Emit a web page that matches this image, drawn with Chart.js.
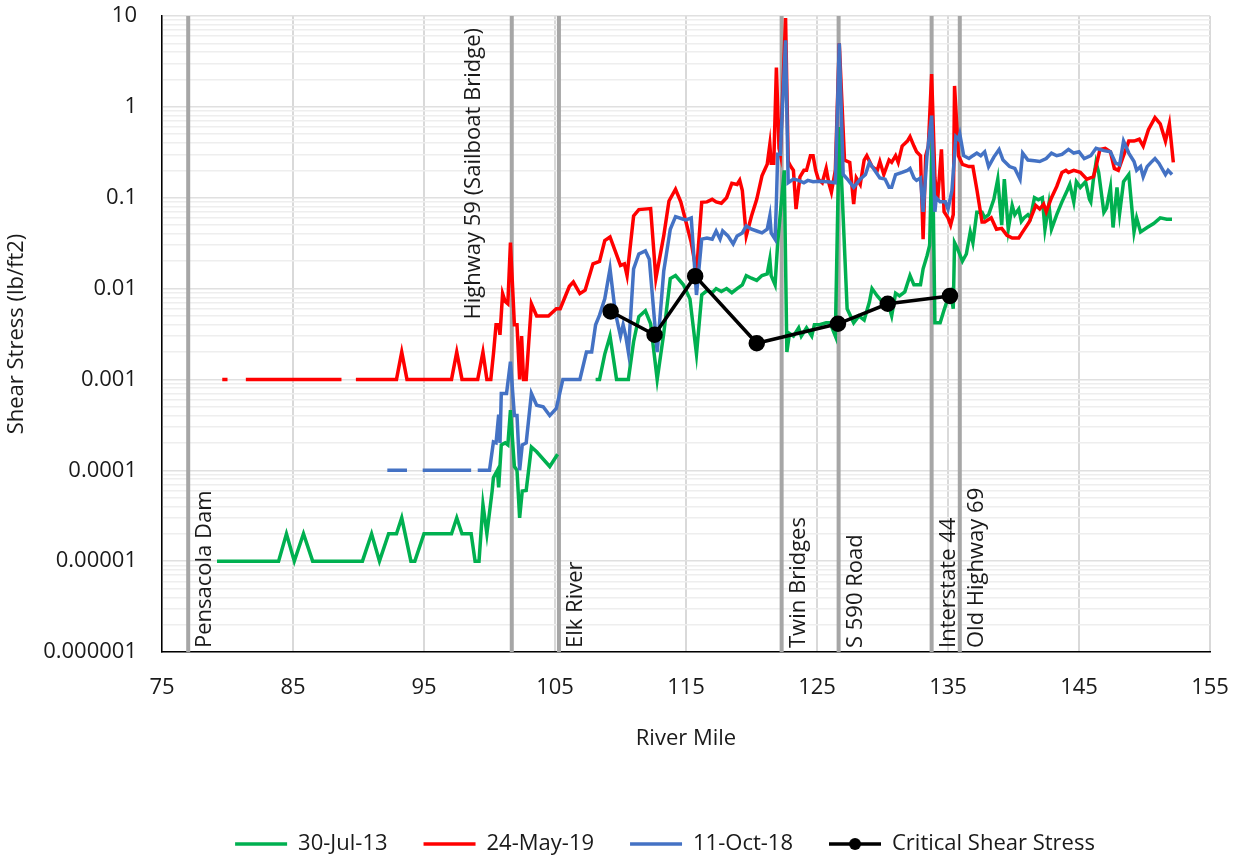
<!DOCTYPE html>
<html>
<head>
<meta charset="utf-8">
<title>Shear Stress by River Mile</title>
<script src="https://cdn.jsdelivr.net/npm/chart.js@4.4.0/dist/chart.umd.min.js"></script>
<style>
  html, body { margin: 0; padding: 0; background: #fff; }
  #wrap { width: 1243px; height: 865px; }
</style>
</head>
<body>
<div id="wrap"><canvas id="shearChart" width="1243" height="865"></canvas></div>
<script>
// [river mile, shear stress lb/ft2] ; null = no value (line breaks there)
const jul2013 = [
  [79.2, 1e-5], [83.9, 1e-5], [84.5, 2e-5], [85.1, 1e-5], [85.8, 2e-5], [86.5, 1e-5],
  [90.3, 1e-5], [91.0, 2e-5], [91.6, 1e-5], [92.3, 2e-5], [92.9, 2e-5], [93.3, 3e-5],
  [94.0, 1e-5], [94.3, 1e-5], [95.0, 2e-5], [97.1, 2e-5], [97.5, 3e-5], [97.9, 2e-5],
  [98.6, 2e-5], [98.9, 1e-5], [99.2, 1e-5], [99.5, 4.2e-5], [99.8, 2e-5], [100.2, 5.9e-5],
  [100.3, 8.3e-5], [100.6, 1e-4], [100.7, 6.5e-5], [100.9, 1.9e-4], [101.2, 2e-4], [101.4, 1.9e-4],
  [101.6, 4.6e-4], [101.9, 1.1e-4], [102.1, 1e-4], [102.3, 3e-5], [102.5, 5.9e-5], [102.8, 6e-5],
  [103.2, 1.8e-4], [103.6, 1.6e-4], [104.6, 1.1e-4], [105.2, 1.5e-4], [106.5, null],
  [108.1, 0.001], [108.4, 0.001], [108.8, 0.0019], [109.2, 0.003], [109.7, 0.001], [110.6, 0.001],
  [111.0, 0.0026], [111.4, 0.0049], [111.9, 0.0057], [112.3, 0.0041], [112.8, 0.001], [113.3, 0.0032],
  [113.8, 0.0129], [114.2, 0.0139], [114.8, 0.011], [115.3, 0.0077], [115.8, 0.0019], [116.2, 0.0085],
  [116.6, 0.0095], [117.0, 0.009], [117.3, 0.01], [117.7, 0.0093], [118.1, 0.01], [118.5, 0.009],
  [118.9, 0.01], [119.3, 0.011], [119.6, 0.0139], [120.0, 0.013], [120.4, 0.0123], [120.8, 0.0139],
  [121.2, 0.0145], [121.4, 0.021], [121.5, 0.0139], [121.8, 0.011], [122.0, 0.032], [122.5, 0.2],
  [122.7, 0.002], [122.9, 0.0032], [123.2, 0.003], [123.6, 0.0037], [123.8, 0.003], [124.2, 0.0037],
  [124.6, 0.003], [124.8, 0.004], [125.2, 0.004], [125.7, 0.0042], [126.0, 0.0042], [126.4, 0.003],
  [126.7, 0.6], [127.3, 0.006], [127.8, 0.0042], [128.2, 0.005], [128.6, 0.0045], [129.0, 0.0071],
  [129.2, 0.01], [129.6, 0.0083], [130.0, 0.0071], [130.4, 0.0071], [130.7, 0.005], [131.0, 0.0089],
  [131.3, 0.0083], [131.7, 0.0092], [132.1, 0.0139], [132.4, 0.011], [132.9, 0.011], [133.1, 0.0165],
  [133.4, 0.023], [133.6, 0.03], [133.8, 0.5], [134.0, 0.0042], [134.4, 0.0042], [134.7, 0.0058],
  [134.9, 0.0071], [135.2, 0.009], [135.4, 0.006], [135.5, 0.032], [135.7, 0.028], [136.1, 0.02],
  [136.4, 0.024], [136.7, 0.042], [136.9, 0.032], [137.2, 0.069], [137.6, 0.069], [137.8, 0.06],
  [138.1, 0.065], [138.5, 0.096], [138.8, 0.16], [139.1, 0.05], [139.3, 0.16], [139.6, 0.045],
  [139.9, 0.082], [140.1, 0.065], [140.4, 0.075], [140.6, 0.055], [140.8, 0.06], [141.1, 0.065],
  [141.3, 0.06], [141.6, 0.1], [141.9, 0.095], [142.2, 0.1], [142.4, 0.045], [142.7, 0.085],
  [142.9, 0.045], [143.3, 0.065], [143.7, 0.09], [144.1, 0.12], [144.3, 0.14], [144.6, 0.09],
  [144.8, 0.15], [145.1, 0.13], [145.5, 0.15], [145.8, 0.096], [145.9, 0.09], [146.1, 0.16],
  [146.3, 0.245], [146.5, 0.19], [146.9, 0.069], [147.1, 0.077], [147.4, 0.13], [147.6, 0.047],
  [147.9, 0.13], [148.1, 0.067], [148.4, 0.15], [148.8, 0.18], [149.2, 0.042], [149.4, 0.06],
  [149.7, 0.042], [150.2, 0.047], [150.7, 0.052], [151.2, 0.06], [151.7, 0.058], [152.1, 0.058]
];

const may2019 = [
  [79.6, 0.001], [80.0, 0.001], [80.7, null], [81.4, 0.001], [88.7, 0.001], [89.3, null],
  [89.8, 0.001], [92.9, 0.001], [93.3, 0.002], [93.7, 0.001], [97.1, 0.001], [97.5, 0.002],
  [97.9, 0.001], [99.1, 0.001], [99.5, 0.002], [99.8, 0.001], [100.1, 0.001], [100.3, 0.0019],
  [100.5, 0.004], [100.7, 0.004], [100.8, 0.0031], [101.0, 0.0088], [101.2, 0.0072], [101.4, 0.0068],
  [101.6, 0.032], [101.9, 0.004], [102.1, 0.004], [102.3, 0.001], [102.45, 0.003], [102.6, 0.001],
  [102.8, 0.001], [103.2, 0.0068], [103.6, 0.005], [104.5, 0.005], [105.1, 0.006], [105.4, 0.006],
  [106.1, 0.0106], [106.4, 0.0118], [106.9, 0.0088], [107.3, 0.0096], [107.9, 0.0187], [108.4, 0.0199],
  [108.8, 0.0338], [109.2, 0.037], [110.0, 0.018], [110.3, 0.0187], [110.5, 0.0139], [111.0, 0.063],
  [111.4, 0.074], [112.3, 0.076], [112.7, 0.0129], [113.3, 0.038], [113.7, 0.092], [114.2, 0.124],
  [114.6, 0.09], [115.0, 0.054], [115.4, 0.032], [115.8, 0.0152], [116.2, 0.089], [116.6, 0.09],
  [117.0, 0.096], [117.3, 0.09], [117.7, 0.087], [118.1, 0.1], [118.5, 0.144], [118.9, 0.14],
  [119.1, 0.156], [119.3, 0.12], [119.6, 0.038], [120.0, 0.063], [120.4, 0.096], [120.8, 0.174],
  [121.2, 0.233], [121.4, 0.386], [121.5, 0.24], [121.7, 0.24], [121.9, 2.7], [122.1, 0.35],
  [122.2, 0.3], [122.6, 9.5], [122.8, 0.25], [123.0, 0.22], [123.2, 0.2], [123.4, 0.075],
  [123.7, 0.17], [124.0, 0.2], [124.2, 0.2], [124.5, 0.29], [124.7, 0.29], [124.9, 0.2],
  [125.1, 0.16], [125.4, 0.146], [125.7, 0.21], [125.9, 0.146], [126.1, 0.115], [126.4, 0.2],
  [126.7, 5.0], [127.1, 0.26], [127.5, 0.245], [127.8, 0.085], [128.0, 0.165], [128.3, 0.14],
  [128.6, 0.26], [128.8, 0.29], [129.2, 0.22], [129.6, 0.2], [129.8, 0.25], [130.1, 0.18],
  [130.5, 0.26], [130.7, 0.245], [131.0, 0.29], [131.2, 0.245], [131.5, 0.37], [131.9, 0.42],
  [132.1, 0.47], [132.4, 0.37], [132.6, 0.32], [132.9, 0.29], [133.1, 0.035], [133.3, 0.29],
  [133.5, 0.37], [133.75, 2.3], [134.0, 0.165], [134.2, 0.09], [134.5, 0.34], [134.7, 0.07],
  [135.0, 0.06], [135.2, 0.05], [135.4, 0.065], [135.5, 1.7], [135.8, 0.29], [136.1, 0.233],
  [136.6, 0.22], [136.9, 0.22], [137.2, 0.124], [137.6, 0.054], [137.8, 0.054], [138.3, 0.06],
  [138.7, 0.045], [139.1, 0.046], [139.5, 0.0385], [139.9, 0.036], [140.4, 0.036], [140.6, 0.04],
  [141.2, 0.054], [141.7, 0.082], [142.0, 0.075], [142.3, 0.085], [142.5, 0.07], [142.9, 0.1],
  [143.3, 0.133], [143.7, 0.19], [144.0, 0.2], [144.2, 0.19], [144.6, 0.2], [145.1, 0.19],
  [145.6, 0.16], [146.1, 0.17], [146.3, 0.22], [146.6, 0.34], [147.0, 0.35], [147.4, 0.32],
  [147.7, 0.21], [148.0, 0.2], [148.4, 0.29], [148.8, 0.42], [149.2, 0.42], [149.6, 0.44],
  [149.9, 0.37], [150.3, 0.56], [150.8, 0.76], [151.2, 0.65], [151.6, 0.42], [151.9, 0.65],
  [152.2, 0.245]
];

const oct2018 = [
  [92.2, 1e-4], [93.7, 1e-4], [94.3, null], [94.9, 1e-4], [98.6, 1e-4], [98.85, null],
  [99.1, 1e-4], [100.0, 1e-4], [100.3, 2.05e-4], [100.5, 2e-4], [100.7, 4.1e-4], [100.8, 2e-4],
  [100.9, 7e-4], [101.3, 7e-4], [101.6, 1.57e-3], [101.9, 4e-4], [102.1, 4e-4], [102.3, 1e-4],
  [102.5, 1.9e-4], [102.8, 2e-4], [103.2, 7e-4], [103.6, 5.2e-4], [104.1, 5e-4], [104.6, 4e-4],
  [105.1, 4.8e-4], [105.6, 0.001], [106.9, 0.001], [107.4, 0.002], [107.8, 0.002], [108.1, 0.004],
  [108.4, 0.0051], [108.8, 0.0077], [109.2, 0.0165], [109.6, 0.0055], [110.0, 0.003], [110.2, 0.004],
  [110.4, 0.003], [110.6, 0.002], [111.0, 0.0165], [111.4, 0.024], [111.9, 0.026], [112.2, 0.021],
  [112.8, 0.002], [113.3, 0.0155], [113.8, 0.045], [114.2, 0.062], [114.8, 0.058], [115.0, 0.057],
  [115.4, 0.06], [115.8, 0.0085], [116.2, 0.035], [116.6, 0.036], [117.0, 0.035], [117.3, 0.043],
  [117.6, 0.035], [117.8, 0.043], [118.2, 0.038], [118.6, 0.031], [118.9, 0.038], [119.3, 0.041],
  [119.6, 0.049], [120.0, 0.045], [120.4, 0.043], [120.8, 0.041], [121.2, 0.045], [121.4, 0.063],
  [121.5, 0.041], [121.8, 0.035], [121.9, 0.089], [122.0, 0.3], [122.2, 0.3], [122.6, 5.4],
  [122.8, 0.146], [123.2, 0.16], [123.6, 0.155], [124.0, 0.146], [124.3, 0.155], [124.7, 0.15],
  [125.2, 0.152], [125.8, 0.15], [126.4, 0.146], [126.7, 5.0], [127.0, 0.18], [127.4, 0.155],
  [127.8, 0.13], [128.3, 0.16], [128.7, 0.18], [129.0, 0.245], [129.4, 0.2], [129.8, 0.165],
  [130.2, 0.16], [130.5, 0.13], [130.7, 0.13], [131.0, 0.18], [131.5, 0.19], [131.9, 0.2],
  [132.1, 0.21], [132.4, 0.165], [132.6, 0.155], [132.9, 0.165], [133.1, 0.07], [133.4, 0.29],
  [133.75, 0.8], [134.0, 0.07], [134.1, 0.1], [134.4, 0.09], [134.8, 0.09], [135.0, 0.075],
  [135.3, 0.12], [135.6, 0.47], [135.8, 0.44], [135.9, 0.5], [136.2, 0.29], [136.6, 0.27],
  [136.9, 0.29], [137.2, 0.31], [137.5, 0.29], [137.8, 0.32], [138.1, 0.22], [138.5, 0.28],
  [138.9, 0.34], [139.2, 0.26], [139.7, 0.22], [140.1, 0.21], [140.5, 0.16], [140.7, 0.31],
  [141.1, 0.26], [141.6, 0.255], [142.0, 0.25], [142.5, 0.27], [142.9, 0.31], [143.3, 0.29],
  [143.7, 0.3], [144.2, 0.34], [144.6, 0.31], [145.0, 0.32], [145.4, 0.27], [145.9, 0.29],
  [146.3, 0.35], [146.9, 0.33], [147.4, 0.32], [147.8, 0.24], [148.1, 0.23], [148.4, 0.42],
  [148.8, 0.31], [149.2, 0.25], [149.4, 0.2], [149.7, 0.22], [149.9, 0.17], [150.2, 0.22],
  [150.5, 0.245], [150.8, 0.27], [151.1, 0.24], [151.6, 0.18], [151.8, 0.2], [152.1, 0.18]
];

const criticalShear = [
  [109.25, 0.0056], [112.6, 0.0031], [115.7, 0.0137], [120.4, 0.0025],
  [126.6, 0.0041], [130.4, 0.0068], [135.15, 0.0083]
];

// bridges / dams along the river
const landmarkNames = ['Pensacola Dam', 'Highway 59 (Sailboat Bridge)', 'Elk River', 'Twin Bridges',
  'S 590 Road', 'Interstate 44', 'Old Highway 69'];
const landmarkMiles = [77.0, 101.7, 105.3, 122.3, 126.65, 133.75, 135.9];

const xTickValues = [75, 85, 95, 105, 115, 125, 135, 145, 155];
const yTickValues = [1e-6, 1e-5, 1e-4, 1e-3, 1e-2, 1e-1, 1, 10];
const yTickLabels = ['0.000001', '0.00001', '0.0001', '0.001', '0.01', '0.1', '1', '10'];

const FONT = "'Open Sans', 'Noto Sans', sans-serif";
const TEXT = '#1a1a1a';

function toXY(pairs) {
  return pairs.map(p => ({ x: p[0], y: p[1] }));
}

function decadeIndex(v) {
  return yTickValues.findIndex(t => Math.abs(v - t) / t < 1e-6);
}

// small image for the legend: line with a dot in the middle
function lineDotIcon() {
  const c = document.createElement('canvas');
  c.width = 52; c.height = 16;
  const g = c.getContext('2d');
  g.strokeStyle = '#000'; g.lineWidth = 3.5;
  g.beginPath(); g.moveTo(0, 8); g.lineTo(52, 8); g.stroke();
  g.fillStyle = '#000';
  g.beginPath(); g.arc(26, 8, 6, 0, Math.PI * 2); g.fill();
  return c;
}

// vertical landmark lines with rotated names
const landmarkPlugin = {
  id: 'landmarks',
  afterLayout(chart) {
    // legend sits a bit right of the canvas centre
    if (chart.legend) chart.legend.left = 120;
  },
  beforeDatasetsDraw(chart) {
    const { ctx, chartArea, scales } = chart;
    ctx.save();
    landmarkMiles.forEach((mile, i) => {
      const px = scales.x.getPixelForValue(mile);
      ctx.strokeStyle = '#a6a6a6';
      ctx.lineWidth = 4;
      ctx.beginPath();
      ctx.moveTo(px, chartArea.top);
      ctx.lineTo(px, chartArea.bottom);
      ctx.stroke();

      ctx.save();
      ctx.font = '22px ' + FONT;
      ctx.fillStyle = TEXT;
      ctx.textBaseline = 'middle';
      if (landmarkNames[i].startsWith('Highway 59')) {
        // this one sits at the top, left of its line
        ctx.translate(px - 38, chartArea.top + 12);
        ctx.rotate(-Math.PI / 2);
        ctx.textAlign = 'right';
      } else {
        ctx.translate(px + 17, chartArea.bottom - 4);
        ctx.rotate(-Math.PI / 2);
        ctx.textAlign = 'left';
      }
      ctx.fillText(landmarkNames[i], 0, 0);
      ctx.restore();
    });
    ctx.restore();
  }
};

Chart.defaults.font.family = FONT;
Chart.defaults.font.size = 22;
Chart.defaults.color = TEXT;

const lineStyle = { borderWidth: 3.5, pointRadius: 0, tension: 0, spanGaps: false, fill: false };

new Chart(document.getElementById('shearChart'), {
  type: 'line',
  data: {
    datasets: [
      Object.assign({ label: '30-Jul-13', data: toXY(jul2013), borderColor: '#00b050', backgroundColor: '#00b050', order: 4 }, lineStyle),
      Object.assign({ label: '24-May-19', data: toXY(may2019), borderColor: '#ff0000', backgroundColor: '#ff0000', order: 3 }, lineStyle),
      Object.assign({ label: '11-Oct-18', data: toXY(oct2018), borderColor: '#4472c4', backgroundColor: '#4472c4', order: 2 }, lineStyle),
      {
        label: 'Critical Shear Stress', data: toXY(criticalShear), order: 1,
        borderColor: '#000', backgroundColor: '#000', borderWidth: 3.5, tension: 0,
        pointRadius: 6.5, pointBackgroundColor: '#000', pointBorderColor: '#000'
      }
    ]
  },
  options: {
    responsive: false,
    animation: false,
    devicePixelRatio: 1,
    layout: { padding: { left: 0, right: 33, top: 16, bottom: 0 } },
    scales: {
      x: {
        type: 'linear', min: 75, max: 155,
        afterBuildTicks(scale) { scale.ticks = xTickValues.map(v => ({ value: v })); },
        afterFit(scale) {
          scale.height = 145;
          scale.paddingLeft = 0; scale.paddingRight = 0;
        },
        ticks: { autoSkip: false, maxRotation: 0, padding: 23, callback: v => String(v) },
        grid: { color: '#d9d9d9', lineWidth: 2, drawTicks: false },
        border: { color: '#000', width: 1.5 },
        title: { display: true, text: 'River Mile', padding: { top: 0, bottom: 45 } }
      },
      y: {
        type: 'logarithmic', min: 1e-6, max: 10,
        afterBuildTicks(scale) {
          const ticks = [];
          yTickValues.forEach(base => {
            for (let m = 1; m <= 9; m++) {
              const v = base * m;
              if (v <= 10.0001) ticks.push({ value: v });
            }
          });
          scale.ticks = ticks;
        },
        afterFit(scale) {
          scale.width = 162;
          scale.paddingTop = 0; scale.paddingBottom = 0;
        },
        ticks: {
          autoSkip: false, padding: 25,
          callback: v => decadeIndex(v) >= 0 ? yTickLabels[decadeIndex(v)] : ''
        },
        grid: {
          drawTicks: false, lineWidth: 1.5,
          color: c => (c.tick && decadeIndex(c.tick.value) >= 0) ? '#e0e0e0' : '#eeeeee'
        },
        border: { color: '#000', width: 1.5 },
        title: { display: true, text: 'Shear Stress (lb/ft2)', padding: { top: 4, bottom: 0 } }
      }
    },
    plugins: {
      tooltip: { enabled: false },
      legend: {
        position: 'bottom',
        labels: {
          usePointStyle: true, pointStyleWidth: 52, padding: 36,
          font: { size: 22 }, color: TEXT,
          sort: (a, b) => a.datasetIndex - b.datasetIndex,
          generateLabels(chart) {
            const items = Chart.defaults.plugins.legend.labels.generateLabels(chart);
            items.forEach(it => {
              it.pointStyle = it.datasetIndex === 3 ? lineDotIcon() : 'line';
              it.lineWidth = 3.5;
            });
            return items;
          }
        }
      }
    }
  },
  plugins: [landmarkPlugin]
});
</script>
</body>
</html>
